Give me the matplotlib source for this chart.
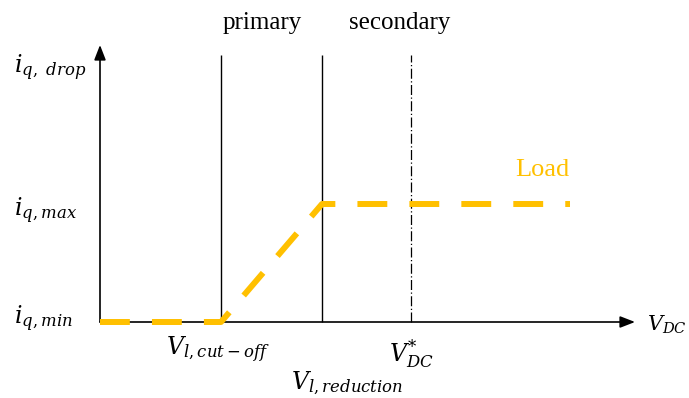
import matplotlib.pyplot as plt

plt.rcParams['mathtext.fontset'] = 'dejavuserif'

# characteristic voltages (x) and current limits (y), schematic units
v_cutoff = 1.21
v_reduction = 2.22
v_dc_ref = 3.11
v_end = 4.70
i_min = 0.0
i_max = 1.18

load_v = [0.0, v_cutoff, v_reduction, v_end]
load_i = [i_min, i_min, i_max, i_max]

x_axis_end = 5.35
y_axis_end = 2.77
guide_top = 2.67

orange = '#FFC000'

fig = plt.figure(figsize=(6.89, 3.98), dpi=100)
ax = fig.add_axes([0, 0, 1, 1])
ax.set_xlim(-1.00, 5.89)
ax.set_ylim(-0.76, 3.22)
ax.axis('off')

# axes with arrow heads
arrow = dict(arrowstyle='-|>,head_length=0.9,head_width=0.35', color='black',
             lw=1.2, shrinkA=0, shrinkB=0)
ax.annotate('', xy=(x_axis_end, 0), xytext=(0, 0), arrowprops=arrow)
ax.annotate('', xy=(0, y_axis_end), xytext=(0, 0), arrowprops=arrow)

# guide lines
ax.vlines([v_cutoff, v_reduction], 0, guide_top, color='black', lw=1.0)
ax.vlines(v_dc_ref, 0, guide_top, color='black', lw=0.9, linestyles=(0, (8, 2, 1, 2)))

# load characteristic
ax.plot(load_v, load_i, color=orange, lw=4.3, dashes=(5, 3.7), zorder=3)

serif = 'Liberation Serif'
ax.text(v_cutoff + 0.41, 2.99, 'primary', family=serif, fontsize=18,
        ha='center', va='center')
ax.text(v_reduction + 0.78, 2.99, 'secondary', family=serif, fontsize=18,
        ha='center', va='center')
ax.text(4.42, 1.52, 'Load', family=serif, fontsize=19, color=orange,
        ha='center', va='center')

fs = 17
ax.text(-0.86, 2.54, r'$i_{q,\ drop}$', fontsize=fs, ha='left', va='center')
ax.text(-0.86, i_max - 0.07, r'$i_{q,max}$', fontsize=fs, ha='left', va='center')
ax.text(-0.86, i_min + 0.03, r'$i_{q,min}$', fontsize=fs, ha='left', va='center')
ax.text(v_cutoff - 0.03, -0.28, r'$V_{l,cut-off}$', fontsize=fs, ha='center', va='center')
ax.text(v_reduction + 0.25, -0.61, r'$V_{l,reduction}$', fontsize=fs, ha='center', va='center')
ax.text(v_dc_ref, -0.31, r'$V_{DC}^{*}$', fontsize=fs, ha='center', va='center')
ax.text(5.87, -0.03, r'$V_{DC}$', fontsize=15, ha='right', va='center')

fig.savefig('out.png', dpi=100)
